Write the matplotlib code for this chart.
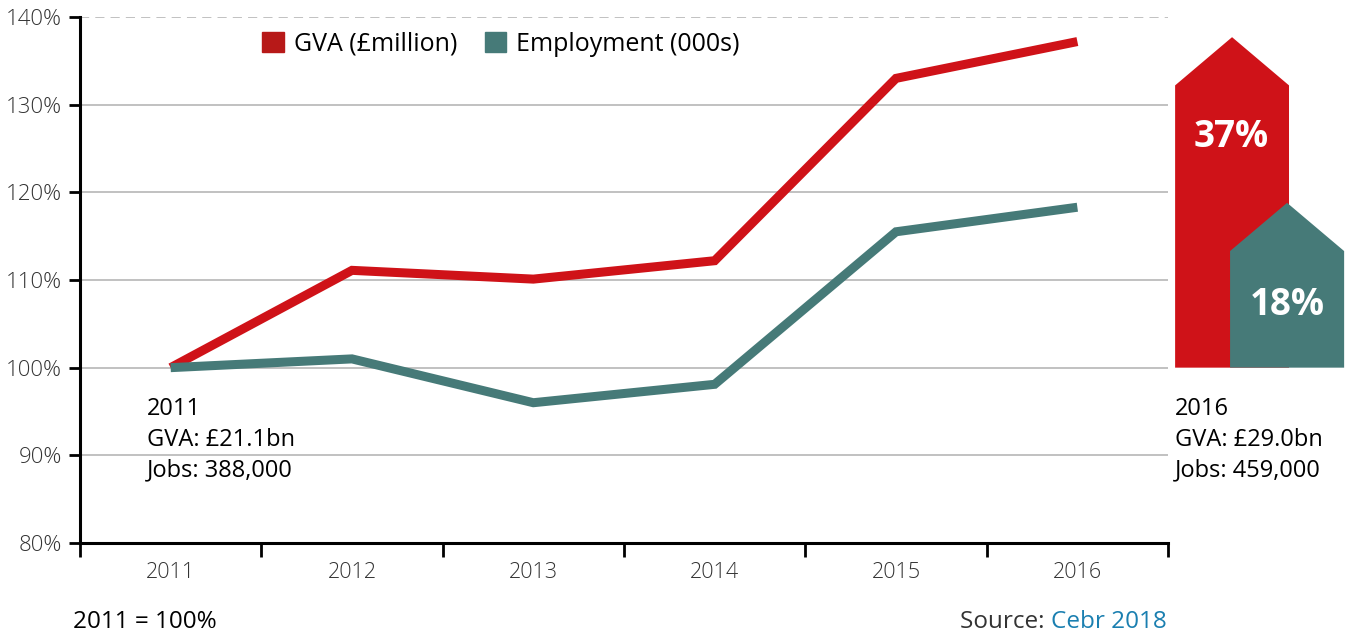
import matplotlib
matplotlib.use("Agg")
import matplotlib.pyplot as plt
from matplotlib.patches import Polygon, Patch

plt.rcParams["font.family"] = ["Open Sans", "DejaVu Sans"]

years = ["2011", "2012", "2013", "2014", "2015", "2016"]
gva = [100.0, 111.1, 110.1, 112.2, 133.0, 137.2]
employment = [100.0, 101.0, 96.0, 98.1, 115.5, 118.3]
y_ticks = [80, 90, 100, 110, 120, 130, 140]
y_labels = ["80%", "90%", "100%", "110%", "120%", "130%", "140%"]
start_note = "2011\nGVA: £21.1bn\nJobs: 388,000"
end_note = "2016\nGVA: £29.0bn\nJobs: 459,000"

RED = "#cf1218"
RED_LEGEND = "#b71918"
TEAL = "#467a78"
GRID = "#b0b0b0"
TXT = "#333333"

fig = plt.figure(figsize=(13.53, 6.37), dpi=100)
ax = fig.add_axes([0.0591, 0.1476, 0.8042, 0.8257])

x = list(range(len(years)))
ax.plot(x, gva, color=RED, lw=6.5, solid_capstyle="butt", solid_joinstyle="miter", zorder=3)
ax.plot(x, employment, color=TEAL, lw=6.5, solid_capstyle="butt", solid_joinstyle="miter", zorder=3)

ax.set_xlim(-0.5, 5.5)
ax.set_ylim(80, 140)

# gridlines
for v in y_ticks[1:-1]:
    ax.axhline(v, color=GRID, lw=1.1, zorder=1)
ax.axhline(140, color=GRID, lw=1.1, ls=(0, (6, 4)), zorder=1)

ax.set_yticks(y_ticks)
ax.set_yticklabels(y_labels, fontsize=16, color=TXT, fontweight="light")
ax.tick_params(axis="y", length=8, width=2, direction="out", pad=5, colors="black", labelcolor=TXT)

ax.set_xticks(x)
ax.set_xticklabels(years, fontsize=15.5, color=TXT, fontweight="light")
ax.tick_params(axis="x", length=0, pad=14, labelcolor=TXT)
ax.set_xticks([i + 0.5 for i in range(-1, len(years))], minor=True)
ax.tick_params(axis="x", which="minor", length=10, width=2, direction="out", colors="black")

for s in ["top", "right"]:
    ax.spines[s].set_visible(False)
ax.spines["left"].set_linewidth(2.2)
ax.spines["bottom"].set_linewidth(2.2)

# legend
handles = [Patch(color=RED_LEGEND, label="GVA (£million)"),
           Patch(color=TEAL, label="Employment (000s)")]
ax.legend(handles=handles, loc="upper left", bbox_to_anchor=(0.147, 1.015), ncol=2,
          frameon=False, fontsize=18, handlelength=0.85, handleheight=0.85,
          handletextpad=0.4, columnspacing=1.1)

# start/end notes
ax.text(-0.13, 96.6, start_note, fontsize=17, color="black", va="top", ha="left",
        linespacing=1.37)
ax.text(5.54, 96.6, end_note, fontsize=17, color="black", va="top", ha="left",
        linespacing=1.37, clip_on=False)

# growth arrows outside the plot
def arrow(x0, x1, top, color):
    shoulder = top - 5.5
    pts = [(x0, 100), (x0, shoulder), ((x0 + x1) / 2, top), (x1, shoulder), (x1, 100)]
    ax.add_patch(Polygon(pts, closed=True, color=color, clip_on=False, zorder=4, lw=0))

arrow(5.539, 6.167, gva[-1] + 0.5, RED)
arrow(5.842, 6.471, employment[-1] + 0.5, TEAL)
gva_pct = round(gva[-1] - gva[0])
emp_pct = round(employment[-1] - employment[0])
ax.text(5.85, 126.3, f"{gva_pct}%", fontsize=26.5, fontweight="bold", color="white",
        ha="center", va="center", zorder=5, clip_on=False)
ax.text(6.16, 107.1, f"{emp_pct}%", fontsize=26.5, fontweight="bold", color="white",
        ha="center", va="center", zorder=5, clip_on=False)

# footer
fig.text(73 / 1353, 1 - 622 / 637, "2011 = 100%", fontsize=17.5, color="black",
         ha="left", va="center")
src = fig.text(1167 / 1353, 1 - 622 / 637, "Cebr 2018", fontsize=17.5, color="#1a7fb0",
               ha="right", va="center")
fig.canvas.draw()
bb = src.get_window_extent().transformed(fig.transFigure.inverted())
fig.text(bb.x0, 1 - 622 / 637, "Source: ", fontsize=17.5, color=TXT, ha="right", va="center")

fig.savefig("out.png", dpi=100)
